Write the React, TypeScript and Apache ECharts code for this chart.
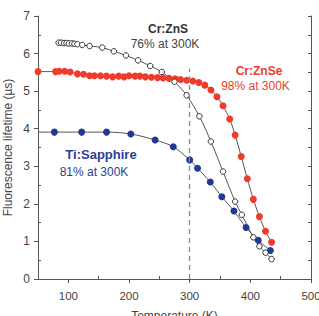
import React, { useEffect, useRef } from "react";
import * as echarts from "echarts";

const znsTemps = [84, 88, 93, 97, 101, 106, 110, 115, 123, 135, 156, 175, 195, 215, 235, 254, 275, 295, 316, 335, 355, 375, 386, 405, 415, 425, 435];
const znsValues = [6.29, 6.29, 6.28, 6.28, 6.27, 6.27, 6.26, 6.25, 6.23, 6.20, 6.16, 6.06, 5.95, 5.82, 5.67, 5.51, 5.25, 4.89, 4.33, 3.66, 2.86, 2.06, 1.71, 1.11, 0.87, 0.70, 0.53];

const znseTemps = [50, 79, 85, 94, 103, 115, 125, 135, 143, 153, 163, 173, 183, 192, 200, 210, 218, 227, 237, 247, 256, 266, 276, 285, 295, 305, 315, 325, 335, 345, 355, 366, 375, 385, 395, 405, 415, 425, 435];
const znseValues = [5.52, 5.52, 5.53, 5.53, 5.51, 5.46, 5.45, 5.41, 5.41, 5.41, 5.40, 5.38, 5.40, 5.38, 5.41, 5.40, 5.40, 5.38, 5.37, 5.36, 5.35, 5.34, 5.33, 5.31, 5.29, 5.27, 5.23, 5.16, 5.03, 4.85, 4.61, 4.26, 3.83, 3.26, 2.67, 2.12, 1.66, 1.27, 0.98];

const tiTemps = [77, 122, 163, 203, 243, 273, 300, 313, 334, 353, 373, 393, 413, 433];
const tiValues = [3.91, 3.91, 3.91, 3.86, 3.70, 3.52, 3.17, 2.95, 2.58, 2.19, 1.81, 1.37, 1.03, 0.76];
const tiFitStart = [50, 3.91];

const xMajorTicks = [100, 200, 300, 400, 500];
const xMinorTicks = [150, 250, 350, 450];
const yMinorTicks = [0.5, 1.5, 2.5, 3.5, 4.5, 5.5, 6.5];
const refTemp = 300;
const refTop = 5.6;

const FONT = "'Liberation Sans', Arial, Helvetica, sans-serif";
const RED = "#ef3b2c";
const BLUE = "#1d3a94";
const FRAME = "#555";
const LINE = "#555";

const pairs = (xs: number[], ys: number[]) => xs.map((x, i) => [x, ys[i]]);

export default function App() {
  const ref = useRef<HTMLDivElement>(null);
  useEffect(() => {
    if (!ref.current) return;
    const chart = echarts.init(ref.current, null, { renderer: "svg" });
    const grid = { left: 38, right: 8, top: 16, bottom: 37, containLabel: false, outerBoundsMode: "none" };
    const tiLine = [tiFitStart, ...pairs(tiTemps, tiValues)];
    chart.setOption({
      animation: false,
      textStyle: { fontFamily: FONT },
      grid,
      xAxis: [
        {
          type: "value", min: 50, max: 500, interval: 50, position: "bottom",
          axisLine: { show: true, lineStyle: { color: FRAME, width: 1 } },
          axisTick: { show: true, customValues: xMajorTicks, length: 4, lineStyle: { color: FRAME } },
          axisLabel: {
            color: "#444", fontSize: 11.5, fontFamily: FONT, margin: 11,
            showMinLabel: true, showMaxLabel: true, hideOverlap: false,
            formatter: (v: number) => (xMajorTicks.indexOf(v) >= 0 ? String(v) : ""),
          },
          splitLine: { show: false },
          name: "Temperature (K)", nameLocation: "middle", nameGap: 31, nameMoveOverlap: false,
          nameTextStyle: { color: "#444", fontSize: 12, fontFamily: FONT },
        },
        {
          type: "value", min: 50, max: 500, position: "bottom",
          axisLine: { show: false },
          axisTick: { show: true, inside: true, customValues: xMinorTicks, length: 3, lineStyle: { color: FRAME } },
          axisLabel: { show: false }, splitLine: { show: false },
        },
        {
          type: "value", min: 50, max: 500, position: "top",
          axisLine: { show: true, lineStyle: { color: FRAME, width: 1 } },
          axisTick: { show: false }, axisLabel: { show: false }, splitLine: { show: false },
        },
      ],
      yAxis: [
        {
          type: "value", min: 0, max: 7, interval: 1, position: "left",
          axisLine: { show: true, lineStyle: { color: FRAME, width: 1 } },
          axisTick: { show: true, length: 4, lineStyle: { color: FRAME } },
          axisLabel: { color: "#444", fontSize: 12, fontFamily: FONT, margin: 8 },
          splitLine: { show: false },
          name: "Fluorescence lifetime (µs)", nameLocation: "middle", nameGap: 24, nameMoveOverlap: false,
          nameTextStyle: { color: "#444", fontSize: 12, fontFamily: FONT },
        },
        {
          type: "value", min: 0, max: 7, position: "left",
          axisLine: { show: false },
          axisTick: { show: true, inside: true, customValues: yMinorTicks, length: 3, lineStyle: { color: FRAME } },
          axisLabel: { show: false }, splitLine: { show: false },
        },
        {
          type: "value", min: 0, max: 7, interval: 0.5, position: "right",
          axisLine: { show: true, lineStyle: { color: FRAME, width: 1 } },
          axisTick: { show: true, inside: true, length: 3, lineStyle: { color: FRAME } },
          axisLabel: { show: false }, splitLine: { show: false },
        },
      ],
      series: [
        {
          type: "line", data: pairs(znsTemps, znsValues), smooth: 0.3, showSymbol: false, clip: false,
          lineStyle: { color: LINE, width: 1 }, z: 2, silent: true,
          markLine: {
            silent: true, symbol: "none", label: { show: false },
            lineStyle: { color: "#888", type: [5, 4], width: 1.3 },
            data: [[{ coord: [refTemp, 0] }, { coord: [refTemp, refTop] }]],
          },
        },
        { type: "line", data: pairs(znseTemps, znseValues), smooth: 0.3, showSymbol: false, clip: false, lineStyle: { color: LINE, width: 1 }, z: 2, silent: true },
        { type: "line", data: tiLine, smooth: 0.3, showSymbol: false, clip: false, lineStyle: { color: LINE, width: 1 }, z: 2, silent: true },
        {
          type: "scatter", data: pairs(znsTemps, znsValues), symbol: "circle", symbolSize: 5.5, clip: false, z: 4,
          itemStyle: { color: "#fff", borderColor: "#333", borderWidth: 1, opacity: 1 },
        },
        {
          type: "scatter", data: pairs(znseTemps, znseValues), symbol: "circle", symbolSize: 7, clip: false, z: 3,
          itemStyle: { color: RED, opacity: 1 },
        },
        {
          type: "scatter", data: pairs(tiTemps, tiValues), symbol: "circle", symbolSize: 7, clip: false, z: 3,
          itemStyle: { color: BLUE, opacity: 1 },
        },
      ],
      graphic: [
        { type: "text", x: 168, y: 29, style: { text: "Cr:ZnS", fill: "#333", font: `bold 12px ${FONT}`, align: "center", verticalAlign: "middle" } },
        { type: "text", x: 165, y: 44, style: { text: "76% at 300K", fill: "#444", font: `12px ${FONT}`, align: "center", verticalAlign: "middle" } },
        { type: "text", x: 259, y: 71, style: { text: "Cr:ZnSe", fill: RED, font: `bold 12px ${FONT}`, align: "center", verticalAlign: "middle" } },
        { type: "text", x: 255.5, y: 86, style: { text: "98% at 300K", fill: RED, font: `12px ${FONT}`, align: "center", verticalAlign: "middle" } },
        { type: "text", x: 101, y: 154, style: { text: "Ti:Sapphire", fill: "#2a3f98", font: `bold 13px ${FONT}`, align: "center", verticalAlign: "middle" } },
        { type: "text", x: 94, y: 172, style: { text: "81% at 300K", fill: "#2a3f98", font: `12px ${FONT}`, align: "center", verticalAlign: "middle" } },
      ],
    });
    return () => chart.dispose();
  }, []);
  return <div ref={ref} style={{ position: "absolute", left: 0, top: 0, width: 319, height: 316 }} />;
}
